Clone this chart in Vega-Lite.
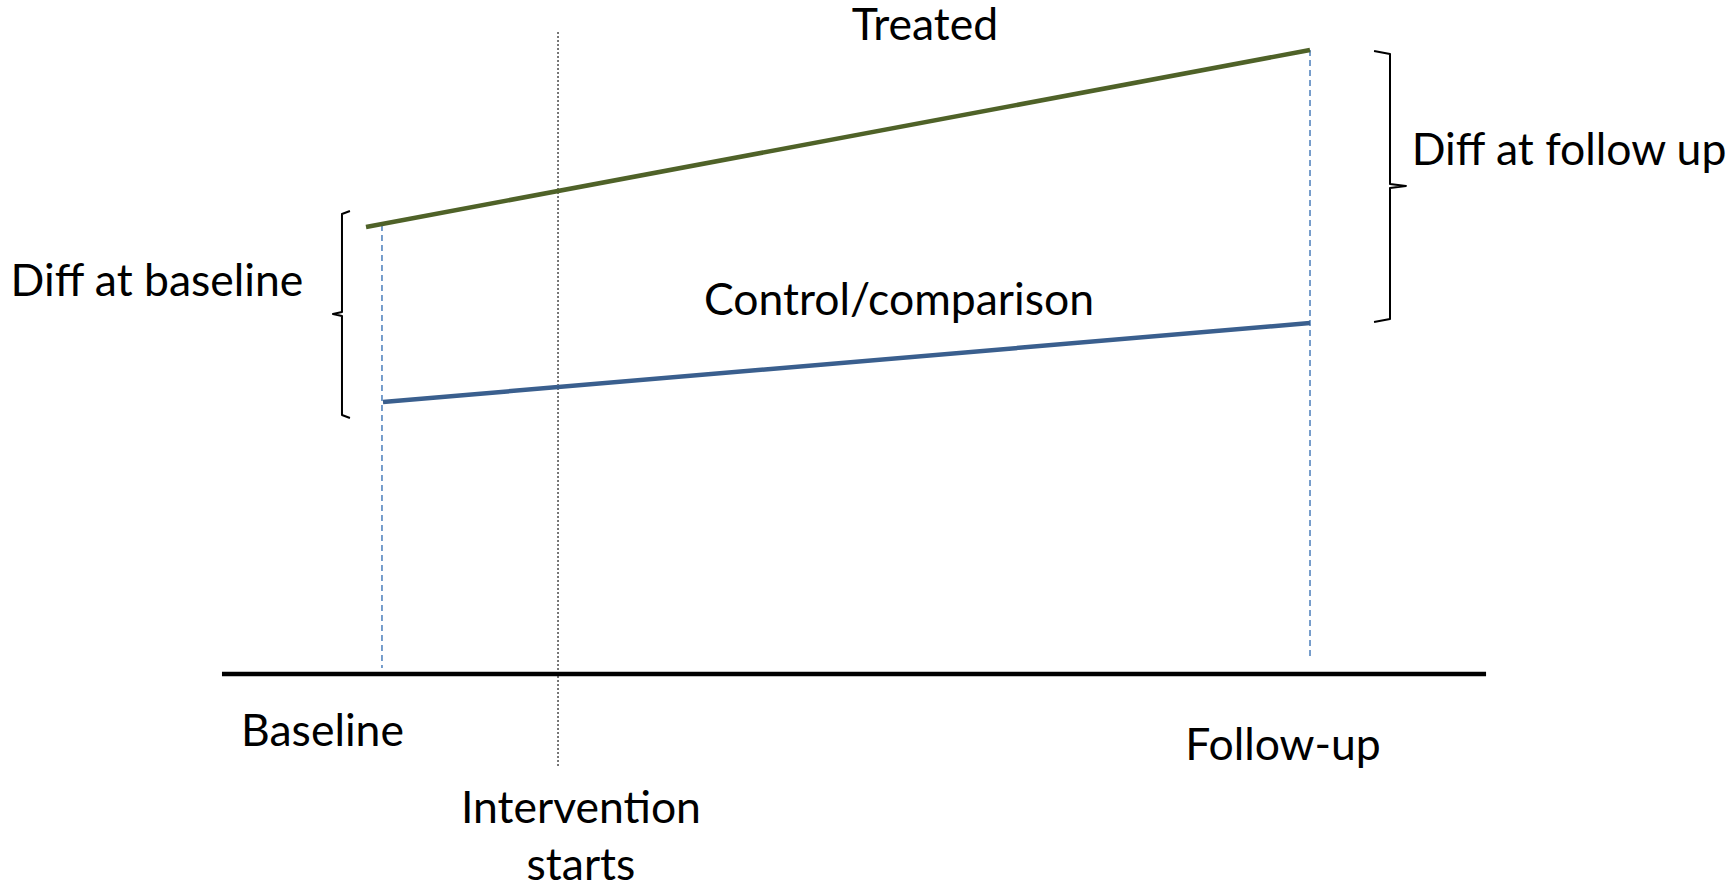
{
  "$schema": "https://vega.github.io/schema/vega-lite/v6.json",
  "width": 1733,
  "height": 885,
  "autosize": {"type": "none"},
  "padding": 0,
  "background": "white",
  "config": {"view": {"stroke": null}},
  "datasets": {
    "trend": [
      {"group": "Treated", "t": -0.172, "v": 44.7},
      {"group": "Treated", "t": 10, "v": 62.4},
      {"group": "Control", "t": 0.011, "v": 27.2},
      {"group": "Control", "t": 10, "v": 35.1}
    ],
    "guides": [
      {"g": "base", "t": 0, "v": 44.9},
      {"g": "base", "t": 0, "v": 0.6},
      {"g": "follow", "t": 10, "v": 62.4},
      {"g": "follow", "t": 10, "v": 1.6}
    ],
    "axisline": [
      {"t": -1.724, "v": 0},
      {"t": 11.897, "v": 0}
    ],
    "intervention": [
      {"t": 1.897, "v": 64.2},
      {"t": 1.897, "v": -9.2}
    ],
    "braces": [
      {"b": "left", "i": 0, "t": -0.345, "v": 46.3},
      {"b": "left", "i": 1, "t": -0.431, "v": 46.0},
      {"b": "left", "i": 2, "t": -0.431, "v": 36.2},
      {"b": "left", "i": 3, "t": -0.528, "v": 36.0},
      {"b": "left", "i": 4, "t": -0.431, "v": 35.8},
      {"b": "left", "i": 5, "t": -0.431, "v": 25.9},
      {"b": "left", "i": 6, "t": -0.345, "v": 25.6},
      {"b": "right", "i": 0, "t": 10.690, "v": 62.3},
      {"b": "right", "i": 1, "t": 10.862, "v": 62.0},
      {"b": "right", "i": 2, "t": 10.862, "v": 49.0},
      {"b": "right", "i": 3, "t": 11.034, "v": 48.8},
      {"b": "right", "i": 4, "t": 10.862, "v": 48.6},
      {"b": "right", "i": 5, "t": 10.862, "v": 35.5},
      {"b": "right", "i": 6, "t": 10.690, "v": 35.2}
    ],
    "labels": [
      {"label": "Treated", "t": 5.851, "v": 63.4},
      {"label": "Control/comparison", "t": 5.571, "v": 35.9},
      {"label": "Diff at follow up", "t": 12.791, "v": 50.9},
      {"label": "Diff at baseline", "t": -2.425, "v": 37.8},
      {"label": "Baseline", "t": -0.641, "v": -7.2},
      {"label": "Follow-up", "t": 9.709, "v": -8.6},
      {"label": "Intervention\nstarts", "t": 2.144, "v": -14.9}
    ]
  },
  "encoding": {
    "x": {"field": "t", "type": "quantitative", "scale": {"domain": [-4.116, 14.558], "nice": false, "zero": false}, "axis": null},
    "y": {"field": "v", "type": "quantitative", "scale": {"domain": [-21.1, 67.4], "nice": false, "zero": false}, "axis": null}
  },
  "layer": [
    {
      "data": {"name": "guides"},
      "mark": {"type": "line", "color": "#4A7EBB", "strokeWidth": 1.5, "strokeDash": [6, 4]},
      "encoding": {"detail": {"field": "g"}}
    },
    {
      "data": {"name": "intervention"},
      "mark": {"type": "line", "color": "#555555", "strokeWidth": 1.6, "strokeDash": [2, 2]},
      "encoding": {}
    },
    {
      "data": {"name": "axisline"},
      "mark": {"type": "line", "color": "#000000", "strokeWidth": 4.5},
      "encoding": {}
    },
    {
      "data": {"name": "trend"},
      "mark": {"type": "line", "strokeWidth": 4.5},
      "encoding": {
        "color": {"field": "group", "type": "nominal", "scale": {"domain": ["Treated", "Control"], "range": ["#4F6228", "#3A5F8E"]}, "legend": null}
      }
    },
    {
      "data": {"name": "braces"},
      "mark": {"type": "line", "color": "#000000", "strokeWidth": 2, "interpolate": "linear", "strokeJoin": "round"},
      "encoding": {"detail": {"field": "b"}, "order": {"field": "i", "type": "quantitative"}}
    },
    {
      "data": {"name": "labels"},
      "mark": {"type": "text", "font": "Lato", "fontSize": 44.5, "color": "#000000", "align": "center", "baseline": "alphabetic", "lineBreak": "\n", "lineHeight": 57},
      "encoding": {"text": {"field": "label"}}
    }
  ]
}
